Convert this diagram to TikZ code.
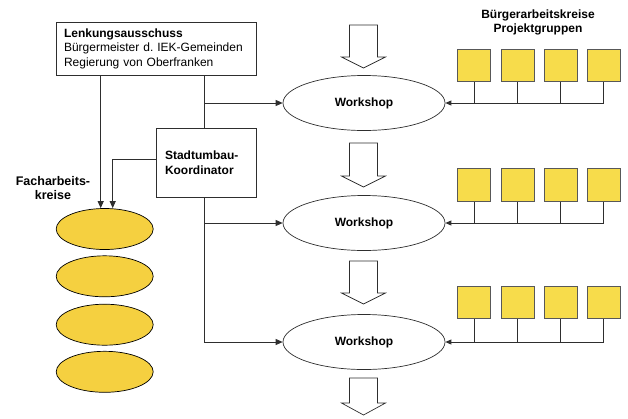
\documentclass[tikz,border=0pt]{standalone}
\usepackage{fontspec}
\setmainfont{Liberation Sans}
\frenchspacing
\usetikzlibrary{shapes.geometric,arrows.meta}
\definecolor{lineclr}{HTML}{2E2E2E}
\definecolor{sqyellow}{HTML}{F7DC4B}
\definecolor{elyellow}{HTML}{F5D040}
\tikzset{
  txt/.style={font=\fontsize{12}{14.5}\selectfont},
  box/.style={txt, draw=lineclr, line width=0.8pt, fill=white, align=left, inner ysep=0pt},
  wshop/.style={ellipse, draw=lineclr, line width=0.7pt, fill=white, minimum width=162pt, minimum height=55pt, inner sep=0pt, txt, font=\fontsize{12}{14.5}\selectfont\bfseries},
  yell/.style={ellipse, draw=black, line width=0.7pt, fill=elyellow, minimum width=97pt, minimum height=41pt, inner sep=0pt},
  sq/.style={rectangle, draw=lineclr!80, line width=0.8pt, fill=sqyellow, minimum width=33pt, minimum height=32.5pt, inner sep=0pt},
  conn/.style={draw=lineclr, line width=0.8pt},
  arr/.style={conn, -{Triangle[length=7pt,width=6pt]}},
  sarr/.style={conn, -{Triangle[length=6pt,width=5pt]}},
  hollow/.style={draw=lineclr, line width=0.7pt, fill=white, line join=miter},
}
\begin{document}
\begin{tikzpicture}[x=1pt,y=-1pt]
\useasboundingbox (0,0) rectangle (628,418);

% hollow arrows
\foreach \t/\h/\p in {25/57/68, 143/176/187, 261/293/304, 378/403/415}{
  \draw[hollow] (349.5,\t) -- (377.5,\t) -- (377.5,\h) -- (385.5,\h) -- (363.5,\p) -- (341.5,\h) -- (349.5,\h) -- cycle;
}

% top box
\node[box, text width=184pt, inner xsep=8pt, minimum height=53pt] (L) at (156,48.5)
  {\textbf{Lenkungsausschuss}\\Bürgermeister d. IEK-Gemeinden\\Regierung von Oberfranken};

% coordinator
\node[box, text width=82pt, inner xsep=9pt, minimum height=69pt, font=\fontsize{12}{15.5}\selectfont\bfseries] (S) at (206,162.5)
  {Stadtumbau-\\Koordinator};

% workshops
\node[wshop] (W1) at (364,103) {Workshop};
\node[wshop] (W2) at (364,223) {Workshop};
\node[wshop] (W3) at (364,342) {Workshop};

% labels
\node[txt, font=\fontsize{12}{14.5}\selectfont\bfseries, align=center] (BT) at (538,22.5) {Bürgerarbeitskreise\\Projektgruppen};
\node[txt, font=\fontsize{12.5}{14.5}\selectfont\bfseries, align=center] (FT) at (53,188) {Facharbeits-\\kreise};

% yellow ellipses
\node[yell] (E1) at (104.7,229) {};
\node[yell] (E2) at (104.7,276.3) {};
\node[yell] (E3) at (104.7,324.7) {};
\node[yell] (E4) at (104.7,371.8) {};

% squares
\foreach \r/\y in {1/65.5, 2/185, 3/302.5}{
  \foreach \c/\x in {1/474.2, 2/517.5, 3/560.8, 4/603.7}{
    \node[sq] (Q\r\c) at (\x,\y) {};
  }
}

% connectors from squares to workshops
\foreach \r in {1,2,3}{
  \draw[sarr] (Q\r4.south) |- (W\r.east);
  \foreach \c in {1,2,3}{
    \draw[conn] (Q\r\c.south) -- (Q\r\c.south |- W\r.east);
  }
}

% Lenkungsausschuss connectors
\coordinate (la) at (100.7,75);
\coordinate (lb) at (204.3,75);
\draw[arr] (L.south -| la) -- (la |- E1.north);
\draw[conn] (L.south -| lb) -- (lb |- S.north);
\draw[arr] (lb |- W1.west) -- (W1.west);

% Stadtumbau connectors
\coordinate (sa) at (112.7,159);
\draw[arr] (S.west |- sa) -| (sa |- E1.north);
\coordinate (sb) at (204.3,197);
\draw[conn] (S.south -| sb) -- (sb |- W3.west);
\draw[arr] (sb |- W2.west) -- (W2.west);
\draw[arr] (sb |- W3.west) -- (W3.west);
\end{tikzpicture}
\end{document}
